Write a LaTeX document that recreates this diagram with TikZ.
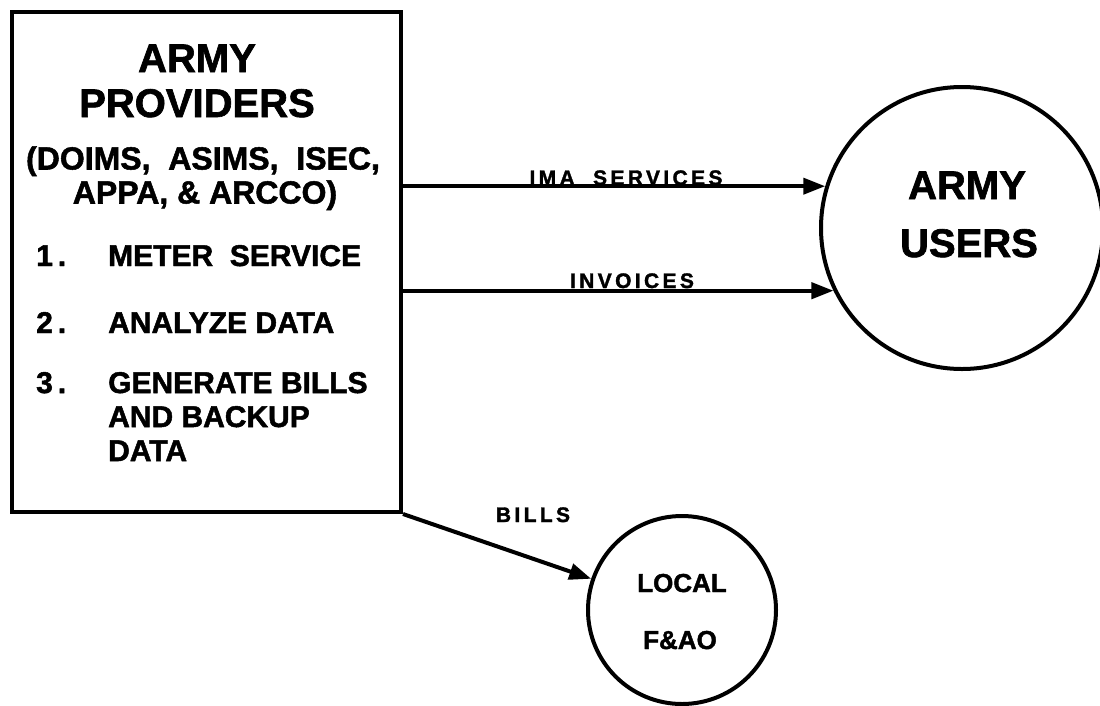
\documentclass[tikz,border=0pt]{standalone}
\usepackage{fontspec}
\setmainfont{Liberation Sans}[BoldFeatures={FakeBold=1.6}]
\newfontfamily\spacedfont{Liberation Sans}[LetterSpace=16, BoldFeatures={FakeBold=1.6}]
\usetikzlibrary{arrows.meta}
\tikzset{
  outline/.style={draw=black, line width=4pt},
  flow/.style={line width=4pt, -{Triangle[length=22pt,width=16pt]}},
  big/.style={font=\bfseries\fontsize{40}{48}\selectfont, inner sep=0pt},
  mid/.style={font=\bfseries\fontsize{32}{38}\selectfont, inner sep=0pt},
  item/.style={font=\bfseries\fontsize{30}{36}\selectfont, inner sep=0pt, anchor=base west},
  small/.style={font=\spacedfont\bfseries\fontsize{21}{25}\selectfont, inner sep=0pt},
  local/.style={font=\bfseries\fontsize{26}{30}\selectfont, inner sep=0pt}
}
\begin{document}
\begin{tikzpicture}[x=1pt, y=-1pt]
\useasboundingbox (0,0) rectangle (1100,705);

% provider box and its contents
\node[outline, rectangle, minimum width=389pt, minimum height=500pt, inner sep=0pt] (prov) at (206.5,262) {};
\node[big, anchor=base] (p1) at (197,72) {ARMY};
\node[big, anchor=base] (p2) at (197,117) {PROVIDERS};
\node[mid, anchor=base] (p3) at (203,169.5) {(DOIMS,\ \ ASIMS,\ \ ISEC,};
\node[mid, anchor=base] (p4) at (205,203.5) {APPA,\ \&\ ARCCO)};
\node[item] (n1) at (36,266) {1\hspace{5pt}.};
\node[item] (i1) at (108,266) {METER\ \ SERVICE};
\node[item] (n2) at (36,333) {2\hspace{5pt}.};
\node[item] (i2) at (108,333) {ANALYZE DATA};
\node[item] (n3) at (36,393) {3\hspace{5pt}.};
\node[item] (i3) at (108,393) {GENERATE BILLS};
\node[item] (i4) at (108,427) {AND BACKUP};
\node[item] (i5) at (108,461) {DATA};

% users circle
\node[outline, circle, minimum size=282pt, inner sep=0pt] (users) at (962,228) {};
\node[big, anchor=base] (u1) at (967,199) {ARMY};
\node[big, anchor=base] (u2) at (969,257) {USERS};

% finance office circle
\node[outline, circle, minimum size=188pt, inner sep=0pt] (fao) at (682,610) {};
\node[local, anchor=base] (f1) at (682,592) {LOCAL};
\node[local, anchor=base] (f2) at (680,649) {F\&AO};

% flows
\draw[flow] (prov.east |- users.163.5) -- (users.163.5);
\draw[flow] (prov.east |- users.206.5) -- (users.206.5);
\draw[flow] (prov.south east) -- (fao);

% flow labels
\node[small, anchor=base] (l1) at (626,185) {IMA\ \ SERVICES};
\node[small, anchor=base] (l2) at (632,288) {INVOICES};
\node[small, anchor=base] (l3) at (533,522) {BILLS};
\end{tikzpicture}
\end{document}
